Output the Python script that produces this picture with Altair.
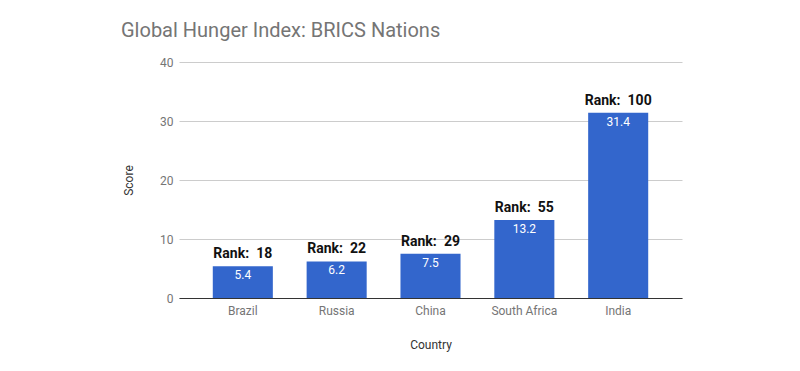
import altair as alt
import pandas as pd

countries = ["Brazil", "Russia", "China", "South Africa", "India"]
scores = [5.4, 6.2, 7.5, 13.2, 31.4]
ranks = [18, 22, 29, 55, 100]

df = pd.DataFrame({
    "Country": countries,
    "Score": scores,
    "Rank": ranks,
})
df["RankLabel"] = ["Rank:\u2002" + str(r) for r in ranks]
df["ScoreLabel"] = [f"{s:.1f}" for s in scores]

FONT = "Roboto"

x = alt.X("Country:N", sort=countries,
          scale=alt.Scale(paddingInner=0.36, paddingOuter=0.36),
          axis=alt.Axis(title="Country", labelAngle=0, ticks=False, domainColor="#333333",
                        labelColor="#757575", labelFontSize=12, labelPadding=7,
                        titleColor="#333333", titleFontSize=12, titleFontWeight="normal",
                        titlePadding=23, labelFont=FONT, titleFont=FONT))
y = alt.Y("Score:Q", scale=alt.Scale(domain=[0, 40]),
          axis=alt.Axis(title="Score", values=[0, 10, 20, 30, 40], ticks=False, domain=False,
                        gridColor="#cccccc", labelColor="#757575", labelFontSize=12,
                        labelPadding=6, titleColor="#333333", titleFontSize=12,
                        titleFontWeight="normal", titlePadding=24, labelFont=FONT, titleFont=FONT))

bars = alt.Chart(df).mark_bar(color="#3366cc").encode(x=x, y=y)

rank_text = alt.Chart(df).mark_text(baseline="bottom", dy=-5, fontSize=14, fontWeight="bold",
                                    color="#111111", font=FONT).encode(
    x=alt.X("Country:N", sort=countries), y="Score:Q", text="RankLabel:N")

val_text = alt.Chart(df).mark_text(baseline="top", dy=4, fontSize=12, color="#ffffff",
                                   font=FONT).encode(
    x=alt.X("Country:N", sort=countries), y="Score:Q", text="ScoreLabel:N")

chart = alt.layer(bars, rank_text, val_text).properties(
    width=503, height=236,
    title=alt.TitleParams("Global Hunger Index: BRICS Nations", anchor="start", frame="group",
                          dx=-58, fontSize=20, fontWeight="normal", color="#757575", font=FONT,
                          offset=15),
    autosize=alt.AutoSizeParams(type="none"),
    padding={"left": 171, "top": 54, "right": 110, "bottom": 65},
).configure_view(stroke=None).configure_axis(gridWidth=1)

chart.save("out.html", embed_options={"renderer": "svg", "actions": False})
